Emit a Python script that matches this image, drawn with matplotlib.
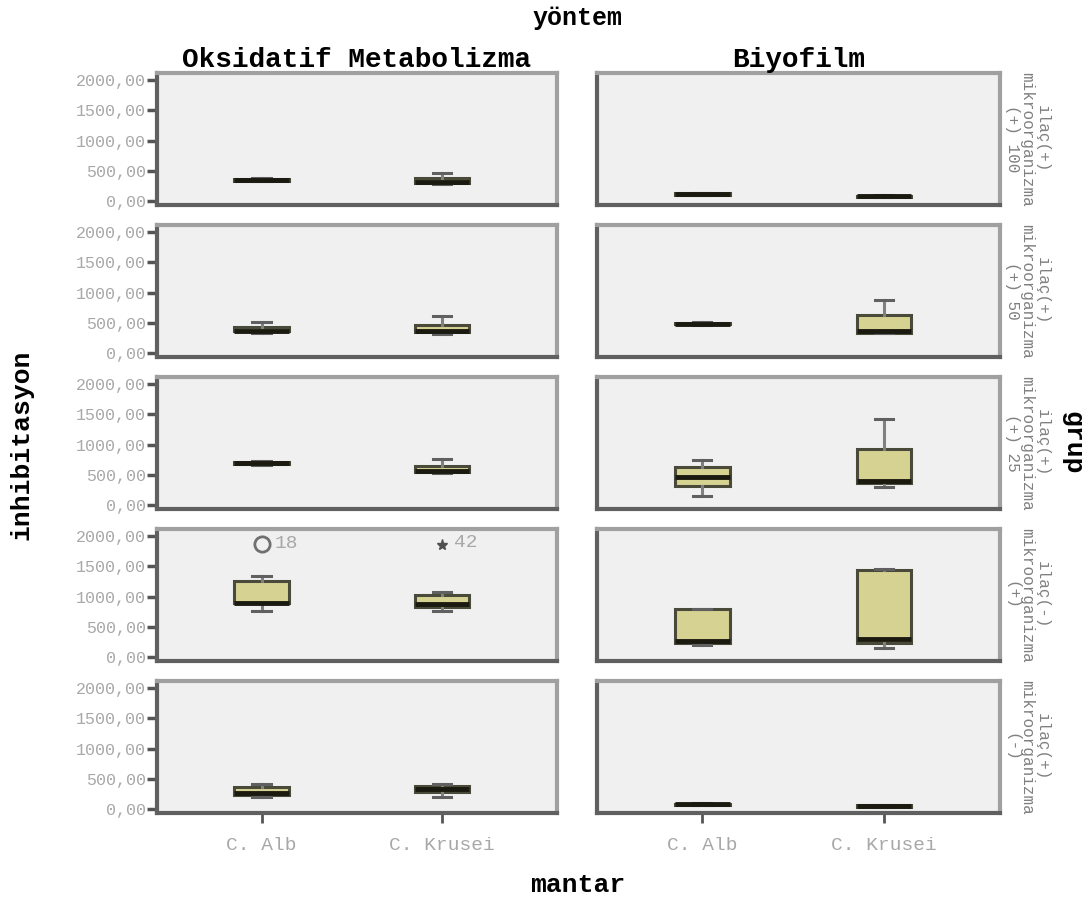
import matplotlib.pyplot as plt
import numpy as np

mono = ['Liberation Mono', 'DejaVu Sans Mono']
plt.rcParams['font.family'] = mono

# categories
fungi = ["C. Alb", "C. Krusei"]
methods = ["Oksidatif Metabolizma", "Biyofilm"]
groups = ["ilaç(+)\nmikroorganizma\n(+) 100",
          "ilaç(+)\nmikroorganizma\n(+) 50",
          "ilaç(+)\nmikroorganizma\n(+) 25",
          "ilaç(-)\nmikroorganizma\n(+)",
          "ilaç(+)\nmikroorganizma\n(-)"]
yticks = [0, 500, 1000, 1500, 2000]
ytick_labels = ["0,00", "500,00", "1000,00", "1500,00", "2000,00"]

# box statistics: rows = groups, cols = [C. Alb, C. Krusei]
ox_whislo = [[330, 290], [340, 320], [660, 530], [760, 760], [200, 200]]
ox_q1     = [[335, 300], [360, 350], [675, 545], [890, 825], [230, 280]]
ox_med    = [[345, 310], [375, 370], [690, 570], [900, 870], [270, 330]]
ox_q3     = [[370, 380], [440, 470], [710, 640], [1250, 1030], [360, 380]]
ox_whishi = [[390, 460], [520, 610], [730, 760], [1340, 1070], [410, 420]]

bf_whislo = [[100, 65], [470, 330], [160, 300], [210, 160], [65, 40]]
bf_q1     = [[105, 70], [475, 340], [310, 370], [240, 240], [70, 45]]
bf_med    = [[115, 80], [490, 360], [470, 400], [270, 300], [80, 55]]
bf_q3     = [[130, 95], [505, 630], [630, 920], [790, 1430], [95, 70]]
bf_whishi = [[140, 100], [520, 880], [740, 1420], [800, 1460], [100, 75]]

# outliers (group 4, Oksidatif Metabolizma)
out_alb_value, out_alb_label = 1870, "18"
out_kru_value, out_kru_label = 1840, "42"

stats_by_method = [
    (ox_whislo, ox_q1, ox_med, ox_q3, ox_whishi),
    (bf_whislo, bf_q1, bf_med, bf_q3, bf_whishi),
]

W, H = 1088, 902
fig = plt.figure(figsize=(W / 100, H / 100), dpi=100)

col_left = [157, 597]
col_width = [400, 403]
row_tops = [73, 225, 377, 529, 681]
row_h = 132

box_face = '#d6d292'
edge = '#4a4a3a'
gray_txt = '#a8a8a8'
positions = [1, 2]

for r in range(5):
    for c in range(2):
        ax = fig.add_axes([col_left[c] / W, 1 - (row_tops[r] + row_h) / H,
                           col_width[c] / W, row_h / H])
        ax.set_facecolor('#f0f0f0')
        wl, q1, md, q3, wh = stats_by_method[c]
        bstats = []
        for k in range(2):
            bstats.append(dict(whislo=wl[r][k], q1=q1[r][k], med=md[r][k],
                               q3=q3[r][k], whishi=wh[r][k], fliers=[]))
        ax.bxp(bstats, positions=positions, widths=0.3, patch_artist=True,
               showfliers=False,
               boxprops=dict(facecolor=box_face, edgecolor=edge, linewidth=2.2),
               medianprops=dict(color='#1a1a10', linewidth=3.5),
               whiskerprops=dict(color='#808080', linewidth=2.2),
               capprops=dict(color='#606060', linewidth=2.2),
               capwidths=0.1)
        ax.set_xlim(0.42, 2.64)
        ax.set_ylim(-60, 2110)
        for s in ['top', 'right']:
            ax.spines[s].set_color('#a0a0a0')
            ax.spines[s].set_linewidth(3)
        for s in ['left', 'bottom']:
            ax.spines[s].set_color('#606060')
            ax.spines[s].set_linewidth(3)
        ax.set_yticks(yticks)
        if c == 0:
            ax.set_yticklabels(ytick_labels, color=gray_txt, fontsize=12)
            ax.tick_params(axis='y', length=7, width=2.5, color='#555555', pad=1)
        else:
            ax.set_yticklabels([])
            ax.tick_params(axis='y', length=0)
        ax.set_xticks(positions)
        if r == 4:
            ax.set_xticklabels(fungi, color=gray_txt, fontsize=14)
            ax.tick_params(axis='x', length=7, width=2, color='#555555', pad=10)
        else:
            ax.set_xticklabels([])
            ax.tick_params(axis='x', length=0)
        if r == 0:
            ax.set_title(methods[c], fontsize=20, fontweight='bold', pad=4)
        if c == 1:
            ax.text(1.067, 0.5, groups[r], transform=ax.transAxes, rotation=270,
                    ha='center', va='center', fontsize=11.5, color='#808080',
                    linespacing=1.0, multialignment='center')
        if r == 3 and c == 0:
            ax.plot([1], [out_alb_value], marker='o', markersize=11, mfc='none',
                    mec='#707070', mew=2, linestyle='none')
            ax.text(1.07, out_alb_value, out_alb_label, color=gray_txt,
                    fontsize=14, va='center')
            ax.plot([2], [out_kru_value], marker='*', markersize=8, color='#505050',
                    linestyle='none')
            ax.text(2.07, out_kru_value + 40, out_kru_label, color=gray_txt,
                    fontsize=14, va='center')

fig.text(578 / W, 1 - 18 / H, "yöntem", ha='center', va='center',
         fontsize=18, fontweight='bold')
fig.text(578 / W, 1 - 885 / H, "mantar", ha='center', va='center',
         fontsize=19, fontweight='bold')
fig.text(22 / W, 1 - 445 / H, "inhibitasyon", ha='center', va='center',
         rotation=90, fontsize=19, fontweight='bold')
fig.text(1072 / W, 1 - 443 / H, "grup", ha='center', va='center',
         rotation=270, fontsize=19, fontweight='bold')

fig.savefig("out.png", dpi=100)
